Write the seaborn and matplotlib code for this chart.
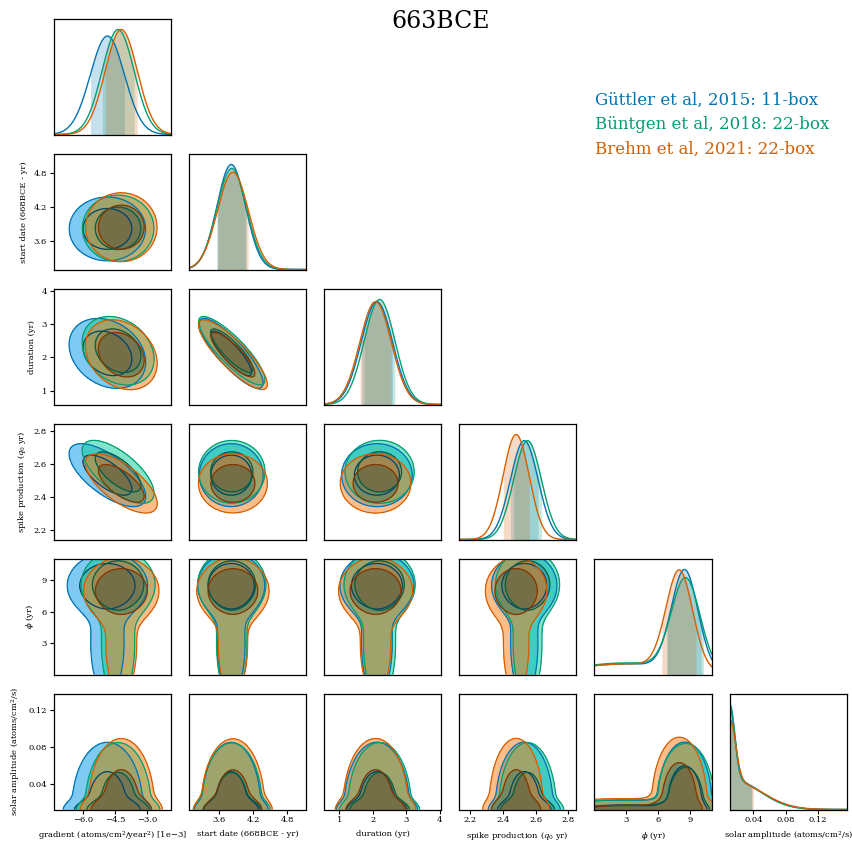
import colorsys

import matplotlib
matplotlib.use("Agg")
import matplotlib.pyplot as plt
import numpy as np
import seaborn as sns

title = "663BCE"
chain_names = ["Güttler et al, 2015: 11-box",
               "Büntgen et al, 2018: 22-box",
               "Brehm et al, 2021: 22-box"]

param_labels = ["gradient (atoms/cm$^2$/year$^2$) [1e\u22123]",
                "start date (668BCE - yr)",
                "duration (yr)",
                "spike production ($q_0$ yr)",
                "$\\phi$ (yr)",
                "solar amplitude (atoms/cm$^2$/s)"]

x_limits = [(-7.35, -1.85), (3.08, 5.14), (0.54, 4.05), (2.13, 2.85), (0.0, 11.08), (0.011, 0.157)]
y_limits = [(-7.35, -1.85), (3.11, 5.13), (0.58, 4.06), (2.14, 2.84), (0.05, 11.0), (0.0117, 0.138)]
tick_values = [[-6.0, -4.5, -3.0], [3.6, 4.2, 4.8], [1, 2, 3, 4],
               [2.2, 2.4, 2.6, 2.8], [3, 6, 9], [0.04, 0.08, 0.12]]
tick_labels = [["\u22126.0", "\u22124.5", "\u22123.0"], ["3.6", "4.2", "4.8"], ["1", "2", "3", "4"],
               ["2.2", "2.4", "2.6", "2.8"], ["3", "6", "9"], ["0.04", "0.08", "0.12"]]

# posterior summaries (main mode of each chain)
guttler_mean = [-4.85, 3.82, 2.12, 2.53, 8.5, 0.015]
guttler_sd = [0.80, 0.25, 0.47, 0.085, 1.25, 0.034]
buntgen_mean = [-4.35, 3.83, 2.20, 2.55, 8.6, 0.015]
buntgen_sd = [0.75, 0.26, 0.46, 0.085, 1.35, 0.034]
brehm_mean = [-4.20, 3.85, 2.08, 2.48, 8.0, 0.015]
brehm_sd = [0.75, 0.27, 0.47, 0.080, 1.25, 0.036]

# non-zero correlations between parameters
correlations = {(0, 2): -0.25, (1, 2): -0.85, (0, 3): -0.68}

# second mode: phase unconstrained when the solar amplitude is small
tail_weight = [0.30, 0.32, 0.30]
tail_phi_mean = [3.0, 3.0, 3.0]
tail_phi_sd = [5.0, 5.0, 5.0]
tail_amp_mean = [0.011, 0.011, 0.011]
tail_amp_sd = [0.006, 0.006, 0.007]

# contour levels (enclosed probability), outer then inner
contour_mass = [0.92, 0.64]

chain_means = [guttler_mean, buntgen_mean, brehm_mean]
chain_sds = [guttler_sd, buntgen_sd, brehm_sd]

pal = sns.color_palette("colorblind")
base_colors = [pal[0], pal[2], pal[3]]


def scale_lightness(color, scale):
    h, l, s = colorsys.rgb_to_hls(*color[:3])
    return colorsys.hls_to_rgb(h, min(1.0, l * scale), s)


def components(k):
    mean = np.array(chain_means[k], dtype=float)
    sd = np.array(chain_sds[k], dtype=float)
    tmean = mean.copy()
    tsd = sd.copy()
    tmean[4] = tail_phi_mean[k]
    tsd[4] = tail_phi_sd[k]
    tmean[5] = tail_amp_mean[k]
    tsd[5] = tail_amp_sd[k]
    return [(1 - tail_weight[k], mean, sd), (tail_weight[k], tmean, tsd)]


def gauss(x, m, s):
    return np.exp(-0.5 * ((x - m) / s) ** 2) / (s * np.sqrt(2 * np.pi))


def density_1d(k, i, x):
    return sum(w * gauss(x, m[i], s[i]) for w, m, s in components(k))


def density_2d(k, i, j, X, Y):
    r = correlations.get((min(i, j), max(i, j)), 0.0)
    out = np.zeros_like(X)
    for w, m, s in components(k):
        u = (X - m[i]) / s[i]
        v = (Y - m[j]) / s[j]
        q = (u * u - 2 * r * u * v + v * v) / (1 - r * r)
        out += w * np.exp(-0.5 * q) / (2 * np.pi * s[i] * s[j] * np.sqrt(1 - r * r))
    return out


def hpd_threshold(z, mass):
    zs = np.sort(z.ravel())[::-1]
    cdf = np.cumsum(zs) / zs.sum()
    return zs[min(np.searchsorted(cdf, mass), len(zs) - 1)]


sns.set_style("ticks")
plt.rcParams["font.family"] = ["DejaVu Serif"]
plt.rcParams["mathtext.fontset"] = "dejavuserif"
plt.rcParams["axes.linewidth"] = 0.9
plt.rcParams["axes.edgecolor"] = "black"
plt.rcParams["text.color"] = "black"
plt.rcParams["axes.labelcolor"] = "black"
plt.rcParams["xtick.color"] = "black"
plt.rcParams["ytick.color"] = "black"

W, H = 853, 844
fig = plt.figure(figsize=(W / 100, H / 100), dpi=100)
col_left = [54, 189, 324, 459, 594.5, 730]
row_top = [19, 154, 289, 424, 559, 694]
aw, ah = 117.5, 115.5
n = len(param_labels)

for row in range(n):
    for col in range(row + 1):
        ax = fig.add_axes([col_left[col] / W, 1 - (row_top[row] + ah) / H, aw / W, ah / H])
        if row == col:
            x = np.linspace(*x_limits[col], 500)
            ymax = 0
            for k in range(3):
                y = density_1d(k, col, x)
                y = y / np.trapezoid(y, x)
                ymax = max(ymax, y.max())
                sns.lineplot(x=x, y=y, ax=ax, color=base_colors[k], lw=1.0)
                thr = hpd_threshold(y, 0.68)
                ax.fill_between(x, 0, y, where=y >= thr, color=base_colors[k], alpha=0.22, lw=0)
            ax.set_ylim(0, ymax * 1.1)
        else:
            xs = np.linspace(*x_limits[col], 220)
            ys = np.linspace(*y_limits[row], 220)
            X, Y = np.meshgrid(xs, ys)
            for k in range(3):
                Z = density_2d(k, col, row, X, Y)
                t_out = hpd_threshold(Z, contour_mass[0])
                t_in = hpd_threshold(Z, contour_mass[1])
                c = base_colors[k]
                ax.contourf(X, Y, Z, levels=[t_out, t_in, Z.max() * 1.001],
                            colors=[scale_lightness(c, 1.3), scale_lightness(c, 0.8)], alpha=0.5)
                ax.contour(X, Y, Z, levels=[t_out, t_in],
                           colors=[c, scale_lightness(c, 0.6)], linewidths=0.9)
            ax.set_ylim(*y_limits[row])
        ax.set_xlim(*x_limits[col])

        if row == n - 1:
            ax.set_xticks(tick_values[col])
            ax.set_xticklabels(tick_labels[col])
            ax.set_xlabel(param_labels[col], fontsize=6)
        else:
            ax.set_xticks([])
            ax.set_xlabel("")
        if col == 0 and row > 0:
            ax.set_yticks(tick_values[row])
            ax.set_yticklabels(tick_labels[row])
            ax.set_ylabel(param_labels[row], fontsize=6)
        else:
            ax.set_yticks([])
            ax.set_ylabel("")
        ax.tick_params(labelsize=6, length=3, width=0.8, pad=2)

fig.text(441 / W, 1 - 22 / H, title, ha="center", va="center", fontsize=17)
for k, name in enumerate(chain_names):
    fig.text(595 / W, 1 - (100 + 24.5 * k) / H, name, ha="left", va="center",
             fontsize=12, color=base_colors[k])

fig.savefig("out.png", dpi=100)
